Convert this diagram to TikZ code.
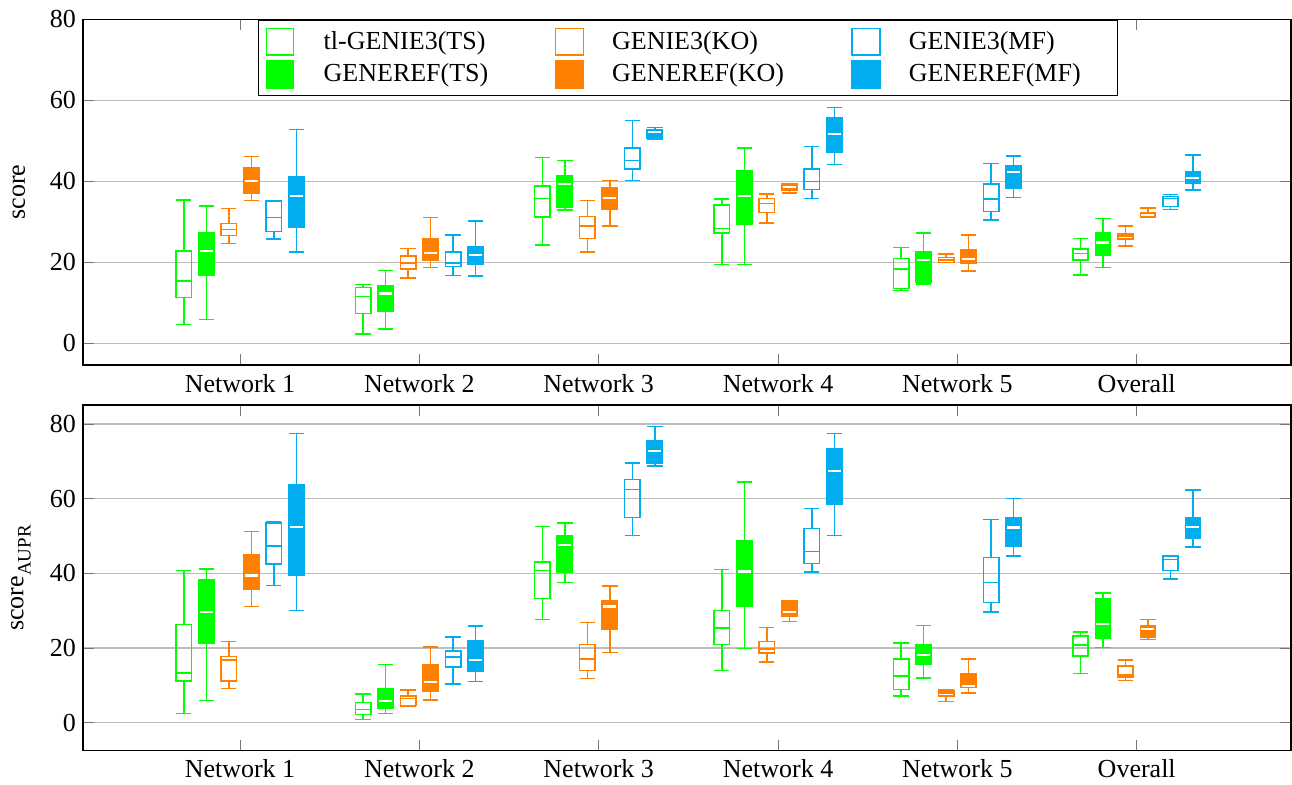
\documentclass[tikz,border=0pt]{standalone}
\usepackage{fontspec}
\setmainfont{Liberation Serif}
\definecolor{cg}{RGB}{0,255,0}
\definecolor{co}{RGB}{255,128,0}
\definecolor{cb}{RGB}{0,174,239}
\definecolor{gridc}{RGB}{190,190,190}
\definecolor{tickc}{RGB}{120,120,120}
\tikzset{
  boxline/.style={line width=1.5pt},
  wmed/.style={line width=2.2pt,draw=white,shorten <=1.2pt,shorten >=1.2pt},
  gridline/.style={draw=gridc,line width=1.2pt},
  tickline/.style={draw=tickc,line width=1pt},
  frameline/.style={draw=black,line width=1.3pt},
  w0/.style={boxline,draw=cg}, b0/.style={boxline,draw=cg}, md0/.style={boxline,draw=cg},
  w1/.style={boxline,draw=cg}, b1/.style={boxline,draw=cg,fill=cg}, md1/.style={wmed},
  w2/.style={boxline,draw=co}, b2/.style={boxline,draw=co}, md2/.style={boxline,draw=co},
  w3/.style={boxline,draw=co}, b3/.style={boxline,draw=co,fill=co}, md3/.style={wmed},
  w4/.style={boxline,draw=cb}, b4/.style={boxline,draw=cb}, md4/.style={boxline,draw=cb},
  w5/.style={boxline,draw=cb}, b5/.style={boxline,draw=cb,fill=cb}, md5/.style={wmed},
  legsq/.style={boxline},
}
% cat, method, lower whisker, q1, median, q3, upper whisker
\newcommand{\bxp}[7]{%
  \pgfmathsetmacro{\xc}{240+179.34*#1+(#2-2.5)*22.5}%
  \pgfmathsetmacro{\xl}{\xc-7.7}%
  \pgfmathsetmacro{\xr}{\xc+7.7}%
  \draw[w#2] (\xc,#3) -- (\xc,#4) (\xc,#6) -- (\xc,#7) (\xl,#3) -- (\xr,#3) (\xl,#7) -- (\xr,#7);%
  \draw[b#2] (\xl,#4) rectangle (\xr,#6);%
  \draw[md#2] (\xl,#5) -- (\xr,#5);%
}
\begin{document}
\begin{tikzpicture}[x=1pt,y=1pt,every node/.style={font=\fontsize{26}{31}\selectfont,inner sep=0pt}]
\useasboundingbox (0,0) rectangle (1292,784);
% ================= TOP PLOT =================
\begin{scope}[yshift=440.7pt,y=4.05pt]
  \foreach \v in {0,20,40,60,80} {
    \draw[gridline] (83,\v) -- (1291,\v);
    \draw[tickline] (83,\v) -- (94,\v) (1280,\v) -- (1291,\v);
    \node[anchor=east] (tl\v) at (76,\v) {\v};
  }
  % Network 1
  \bxp{0}{0}{4.6}{11.3}{15.4}{22.8}{35.4}
  \bxp{0}{1}{5.9}{16.7}{22.8}{27.3}{33.9}
  \bxp{0}{2}{24.7}{26.6}{28.1}{29.6}{33.3}
  \bxp{0}{3}{35.3}{37.1}{40.1}{43.4}{46.1}
  \bxp{0}{4}{25.7}{27.6}{31.1}{35.1}{35.1}
  \bxp{0}{5}{22.5}{28.7}{36.4}{41.0}{52.8}
  % Network 2
  \bxp{1}{0}{2.3}{7.4}{11.5}{13.8}{14.5}
  \bxp{1}{1}{3.5}{7.8}{12.3}{14.3}{18.0}
  \bxp{1}{2}{16.1}{18.3}{19.8}{21.6}{23.4}
  \bxp{1}{3}{18.7}{20.6}{22.3}{25.8}{31.0}
  \bxp{1}{4}{16.7}{19.0}{19.8}{22.6}{26.7}
  \bxp{1}{5}{16.6}{19.6}{21.8}{23.95}{30.2}
  % Network 3
  \bxp{2}{0}{24.3}{31.2}{35.8}{38.8}{45.9}
  \bxp{2}{1}{32.9}{33.5}{39.3}{41.3}{45.1}
  \bxp{2}{2}{22.6}{25.9}{28.9}{31.3}{35.3}
  \bxp{2}{3}{28.9}{33.0}{35.8}{38.3}{40.2}
  \bxp{2}{4}{40.2}{43.0}{45.1}{48.2}{55.0}
  \bxp{2}{5}{50.4}{50.6}{52.1}{52.8}{53.3}
  % Network 4
  \bxp{3}{0}{19.4}{27.2}{28.4}{34.1}{35.6}
  \bxp{3}{1}{19.5}{29.3}{36.4}{42.7}{48.2}
  \bxp{3}{2}{29.7}{32.3}{34.5}{35.8}{36.9}
  \bxp{3}{3}{37.1}{37.8}{38.6}{39.3}{39.4}
  \bxp{3}{4}{35.7}{38.0}{39.9}{43.0}{48.6}
  \bxp{3}{5}{44.1}{47.1}{51.6}{55.8}{58.2}
  % Network 5
  \bxp{4}{0}{13.0}{13.5}{18.3}{20.9}{23.7}
  \bxp{4}{1}{14.7}{15.1}{20.5}{22.7}{27.2}
  \bxp{4}{2}{19.9}{20.0}{20.6}{21.2}{22.1}
  \bxp{4}{3}{17.8}{19.7}{20.9}{23.0}{26.7}
  \bxp{4}{4}{30.4}{32.6}{35.6}{39.3}{44.4}
  \bxp{4}{5}{36.0}{38.2}{42.2}{43.9}{46.2}
  % Overall
  \bxp{5}{0}{16.9}{20.6}{22.2}{23.3}{25.9}
  \bxp{5}{1}{18.7}{21.7}{24.9}{27.4}{30.8}
  \bxp{5}{2}{24.0}{25.8}{26.5}{27.0}{28.9}
  \bxp{5}{3}{31.1}{31.2}{31.7}{32.3}{33.4}
  \bxp{5}{4}{33.0}{33.8}{35.7}{36.3}{36.8}
  \bxp{5}{5}{37.9}{39.4}{40.8}{42.3}{46.5}
\end{scope}
\foreach \i in {0,...,5} {
  \draw[tickline] (240+179.34*\i,419) -- (240+179.34*\i,430);
  \draw[tickline] (240+179.34*\i,764.5) -- (240+179.34*\i,753.5);
}
\draw[frameline] (83,419) rectangle (1291,764.5);
\foreach \i/\t in {0/Network 1,1/Network 2,2/Network 3,3/Network 4,4/Network 5,5/Overall}
  \node[anchor=base] (tx\i) at (240+179.34*\i,391) {\t};
\node[rotate=90] (ylab1) at (18.8,592) {score};
% legend
\draw[draw=black,line width=1.2pt,fill=white] (258.3,764) rectangle (1117.7,688.3);
\draw[legsq,draw=cg] (266.7,755.7) rectangle (293.3,729);
\draw[legsq,draw=cg,fill=cg] (266.7,723) rectangle (293.3,695.7);
\draw[legsq,draw=co] (555.5,755.7) rectangle (583.7,729);
\draw[legsq,draw=co,fill=co] (555.5,723) rectangle (583.7,695.7);
\draw[legsq,draw=cb] (852.2,755.7) rectangle (880,729);
\draw[legsq,draw=cb,fill=cb] (852.2,723) rectangle (880,695.7);
\node[anchor=base west] (lg1) at (323.5,734) {tl-GENIE3(TS)};
\node[anchor=base west] (lg2) at (323.5,702.3) {GENEREF(TS)};
\node[anchor=base west] (lg3) at (611.9,734) {GENIE3(KO)};
\node[anchor=base west] (lg4) at (611.9,702.3) {GENEREF(KO)};
\node[anchor=base west] (lg5) at (908.6,734) {GENIE3(MF)};
\node[anchor=base west] (lg6) at (908.6,702.3) {GENEREF(MF)};
% ================= BOTTOM PLOT =================
\begin{scope}[yshift=61.3pt,y=3.7335pt]
  \foreach \v in {0,20,40,60,80} {
    \draw[gridline] (83,\v) -- (1291,\v);
    \draw[tickline] (83,\v) -- (94,\v) (1280,\v) -- (1291,\v);
    \node[anchor=east] (bl\v) at (76,\v) {\v};
  }
  % Network 1
  \bxp{0}{0}{2.4}{11.2}{13.3}{26.3}{40.7}
  \bxp{0}{1}{6.0}{21.3}{29.7}{38.4}{41.2}
  \bxp{0}{2}{9.2}{11.2}{16.8}{17.7}{21.8}
  \bxp{0}{3}{31.1}{35.8}{39.4}{44.9}{51.2}
  \bxp{0}{4}{36.8}{42.5}{47.3}{53.5}{53.7}
  \bxp{0}{5}{30.1}{39.5}{52.5}{63.7}{77.4}
  % Network 2
  \bxp{1}{0}{0.9}{2.2}{3.5}{5.4}{7.7}
  \bxp{1}{1}{2.5}{3.8}{5.8}{9.2}{15.6}
  \bxp{1}{2}{4.4}{4.6}{6.5}{7.2}{8.8}
  \bxp{1}{3}{6.1}{8.5}{10.8}{15.6}{20.3}
  \bxp{1}{4}{10.3}{14.9}{17.6}{19.2}{23.0}
  \bxp{1}{5}{11.1}{13.8}{16.7}{21.9}{25.9}
  % Network 3
  \bxp{2}{0}{27.7}{33.3}{40.8}{43.0}{52.6}
  \bxp{2}{1}{37.5}{40.4}{47.7}{50.1}{53.5}
  \bxp{2}{2}{11.8}{14.0}{17.1}{20.9}{26.9}
  \bxp{2}{3}{18.75}{25.1}{31.1}{32.6}{36.6}
  \bxp{2}{4}{50.1}{55.0}{62.5}{65.1}{69.6}
  \bxp{2}{5}{68.8}{69.5}{72.7}{75.4}{79.4}
  % Network 4
  \bxp{3}{0}{14.0}{20.9}{25.4}{30.0}{41.0}
  \bxp{3}{1}{19.9}{31.3}{40.5}{48.8}{64.5}
  \bxp{3}{2}{16.2}{18.7}{19.7}{21.8}{25.5}
  \bxp{3}{3}{27.1}{28.5}{29.7}{32.7}{32.7}
  \bxp{3}{4}{40.4}{42.6}{45.9}{52.0}{57.4}
  \bxp{3}{5}{50.2}{58.5}{67.4}{73.4}{77.5}
  % Network 5
  \bxp{4}{0}{7.1}{8.9}{12.5}{17.1}{21.3}
  \bxp{4}{1}{12.0}{15.6}{18.1}{21.0}{26.1}
  \bxp{4}{2}{5.7}{7.1}{7.9}{8.5}{8.75}
  \bxp{4}{3}{7.9}{9.4}{9.8}{13.1}{17.1}
  \bxp{4}{4}{29.7}{32.2}{37.6}{44.3}{54.4}
  \bxp{4}{5}{44.6}{47.3}{52.3}{54.8}{60.0}
  % Overall
  \bxp{5}{0}{13.2}{17.9}{20.8}{23.2}{24.3}
  \bxp{5}{1}{20.1}{22.5}{26.4}{33.2}{34.8}
  \bxp{5}{2}{11.3}{12.3}{12.8}{15.2}{16.8}
  \bxp{5}{3}{22.3}{23.0}{25.0}{25.9}{27.7}
  \bxp{5}{4}{38.5}{40.8}{43.75}{44.6}{44.6}
  \bxp{5}{5}{47.0}{49.4}{52.5}{55.0}{62.3}
\end{scope}
\foreach \i in {0,...,5} {
  \draw[tickline] (240+179.34*\i,33.3) -- (240+179.34*\i,44.3);
  \draw[tickline] (240+179.34*\i,379) -- (240+179.34*\i,368);
}
\draw[frameline] (83,33.3) rectangle (1291,379);
\foreach \i/\t in {0/Network 1,1/Network 2,2/Network 3,3/Network 4,4/Network 5,5/Overall}
  \node[anchor=base] (bx\i) at (240+179.34*\i,6.3) {\t};
\node[rotate=90] (ylab2) at (21,206) {score\raisebox{-0.28em}{\fontsize{19}{22}\selectfont AUPR}};
\end{tikzpicture}
\end{document}
